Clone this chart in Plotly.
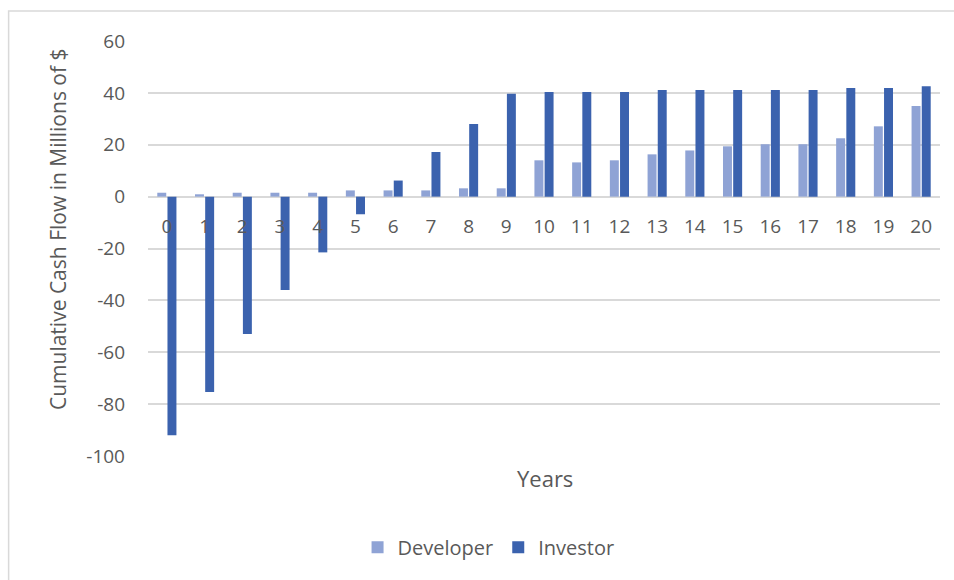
import plotly.graph_objects as go

# Project years and cumulative cash flow (millions of $)
years = [str(y) for y in range(21)]
developer = [1.5, 0.9, 1.5, 1.5, 1.5, 2.4, 2.4, 2.4, 3.2, 3.2, 14.0,
             13.2, 14.0, 16.3, 17.8, 19.4, 20.2, 20.2, 22.5, 27.1, 34.9]
investor = [-92.0, -75.3, -53.0, -36.0, -21.5, -6.8, 6.2, 17.2, 28.0, 39.7, 40.3,
            40.3, 40.3, 41.1, 41.1, 41.1, 41.1, 41.1, 41.9, 41.9, 42.6]
y_ticks = [60, 40, 20, 0, -20, -40, -60, -80, -100]

FONT = "Open Sans"
TXT = "#595959"
GRID = "#d9d9d9"

fig = go.Figure()
fig.add_trace(go.Bar(x=years, y=developer, name="Developer",
                     marker=dict(color="#8FA3D5", line=dict(width=0))))
fig.add_trace(go.Bar(x=years, y=investor, name="Investor",
                     marker=dict(color="#3B62AE", line=dict(width=0))))

fig.update_layout(
    width=954, height=580,
    margin=dict(l=148, r=14, t=41, b=124),
    paper_bgcolor="white", plot_bgcolor="white",
    barmode="group", bargap=0.46, bargroupgap=0.12,
    font=dict(family=FONT, size=18, color=TXT),
    showlegend=True,
    legend=dict(orientation="h", x=0.43, xanchor="center", y=-0.22, yanchor="middle",
                font=dict(family=FONT, size=20, color=TXT), itemwidth=30,
                traceorder="normal"),
    xaxis=dict(type="category", anchor="free", position=0.625,
               showgrid=False, showline=False, zeroline=False,
               ticks="", ticklabelstandoff=16,
               tickfont=dict(family=FONT, size=19, color=TXT)),
    yaxis=dict(range=[-100, 60], tickvals=y_ticks, ticktext=[str(v) for v in y_ticks],
               showgrid=True, gridcolor=GRID, gridwidth=1.5,
               zeroline=True, zerolinecolor=GRID, zerolinewidth=1.5,
               showline=False, ticks="", ticklabelstandoff=22,
               tickfont=dict(family=FONT, size=19, color=TXT)),
    shapes=[dict(type="rect", xref="paper", yref="paper",
                 x0=-0.176, x1=1.5, y0=-1.0, y1=1.072,
                 line=dict(color="#d9d9d9", width=1.5), fillcolor="rgba(0,0,0,0)",
                 layer="below")],
    annotations=[
        dict(text="Cumulative Cash Flow in Millions of $", xref="paper", yref="paper",
             x=-0.1136, y=0.547, xanchor="center", yanchor="middle", textangle=-90,
             showarrow=False, font=dict(family=FONT, size=21, color=TXT)),
        dict(text="Years", xref="paper", yref="paper", x=0.501, y=-0.053,
             xanchor="center", yanchor="middle", showarrow=False,
             font=dict(family=FONT, size=22, color=TXT)),
    ],
)

fig.write_html("out.html")
